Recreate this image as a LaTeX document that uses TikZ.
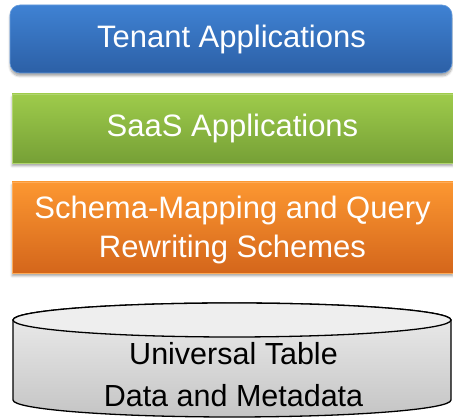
\documentclass[tikz,border=0pt]{standalone}
\usepackage{fontspec}
\setmainfont{Liberation Sans}
\usetikzlibrary{shadows.blur}
\definecolor{bluetop}{HTML}{3F82D3}
\definecolor{bluebot}{HTML}{2C60A6}
\definecolor{greentop}{HTML}{9ECB4B}
\definecolor{greenbot}{HTML}{76A036}
\definecolor{orangetop}{HTML}{FC9731}
\definecolor{orangebot}{HTML}{D4661B}
\definecolor{cyltop}{HTML}{EEEEEE}
\definecolor{cylbody}{HTML}{DADADA}
\tikzset{
  layerbox/.style={minimum height=#1, inner sep=0pt, text=white, align=center,
    font=\fontsize{31}{35}\selectfont,
    blur shadow={shadow xshift=0pt, shadow yshift=-3pt, shadow blur steps=6, shadow opacity=35}},
  cyltext/.style={text=black, align=center, font=\fontsize{30.5}{38}\selectfont, inner sep=0pt}
}
\begin{document}
\begin{tikzpicture}[x=1pt,y=1pt]
\useasboundingbox (0,0) rectangle (453,419);
% Tenant box
\node[layerbox=68pt, minimum width=442pt, rounded corners=10pt,
  top color=bluetop, bottom color=bluebot, draw=bluetop!80!white, line width=0.6pt]
  (tenant) at (231,380) {};
\node[text=white, font=\fontsize{31}{35}\selectfont, inner sep=0pt] (tenantlbl) at (231.5,379.5) {Tenant Applications};
% SaaS box
\node[layerbox=69pt, minimum width=441pt,
  top color=greentop, bottom color=greenbot, draw=greentop!80!white, line width=0.6pt]
  (saas) at (232.5,290.5) {};
\node[text=white, font=\fontsize{31}{35}\selectfont, inner sep=0pt] (saaslbl) at (232.5,291) {SaaS Applications};
% Orange box
\node[layerbox=91pt, minimum width=441pt,
  top color=orangetop, bottom color=orangebot, draw=orangetop!80!white, line width=0.6pt]
  (schema) at (232.5,191.5) {};
\node[text=white, align=center, font=\fontsize{31}{35}\selectfont, inner sep=0pt] (schemalbl) at (232.5,189) {Schema-Mapping and Query\\[3.5pt]Rewriting Schemes};
% Cylinder
\coordinate (ctop) at (232,99);
\coordinate (cbot) at (232,19);
\path[top color=cyltop, bottom color=cylbody!90!black, draw=black, line width=1.3pt]
  (13,99) -- (13,19) arc[start angle=180, end angle=360, x radius=219, y radius=17]
  -- (451,99) arc[start angle=0, end angle=180, x radius=219, y radius=17] -- cycle;
\draw[fill=cyltop, line width=1.3pt] (ctop) ellipse[x radius=219, y radius=17];
\node[cyltext] (universal) at (233.5,44.5) {Universal Table\\[4.5pt]Data and Metadata};
\end{tikzpicture}
\end{document}
